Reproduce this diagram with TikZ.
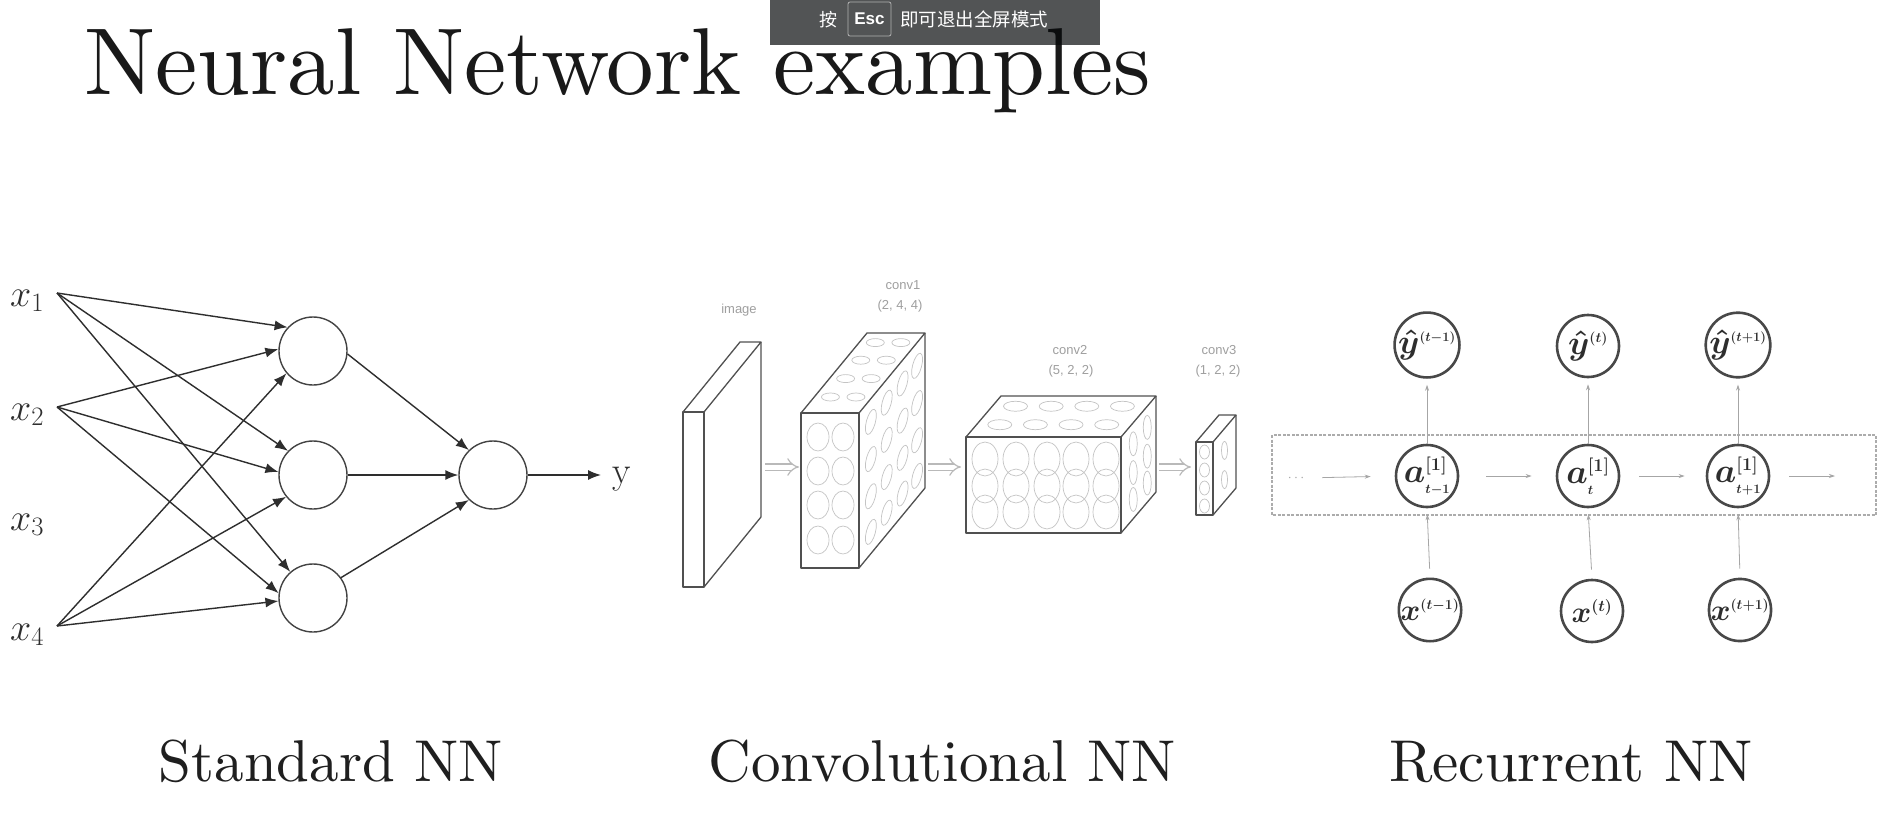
\RequirePackage{fix-cm}
\documentclass[tikz,border=0pt]{standalone}
\usepackage{fontspec}
\newfontfamily\cjk{Noto Sans CJK SC}
\newfontfamily\lsans{Liberation Sans}
\newfontfamily\lmten{lmroman10-regular}[Extension=.otf]
\usetikzlibrary{arrows.meta}
\definecolor{ink}{HTML}{2E2E2E}
\definecolor{cnnline}{HTML}{505050}
\definecolor{cnnlight}{HTML}{C4C4C4}
\definecolor{rnnline}{HTML}{484848}
\definecolor{bannerc}{HTML}{05080A}
\newcommand\drawcuboid[6]{%
  \draw[cube] (#1,#2) rectangle (#3,#4);
  \draw[cube] (#1,#2) -- ++(#5,#6) -- ++(#3-#1,0) -- (#3,#2);
  \draw[cube] (#3,#2) ++(#5,#6) -- ++(0,#4-#2) -- (#3,#4);
}
\newcommand\smallmath[2]{\mbox{\fontsize{#1}{#1}\selectfont$#2$}}
\begin{document}
\begin{tikzpicture}[x=1pt,y=-1pt,
  neuron/.style={circle,draw=ink!90,line width=1.4pt,minimum size=68pt,inner sep=0pt},
  nnarrow/.style={draw=ink,line width=1.4pt,-{Latex[length=13pt,width=10pt]}},
  inlbl/.style={inner sep=0pt,anchor=base west,font=\fontsize{38}{40}\selectfont,text=ink},
  cube/.style={draw=cnnline,line width=1.3pt,line join=round},
  blob/.style={draw=cnnlight,line width=0.7pt},
  hollow/.style={draw=gray!55,line width=1.2pt,double=white,double distance=5pt,-{Implies}},
  cnnlbl/.style={inner sep=0pt,font=\lsans\fontsize{13}{14}\selectfont,text=gray!75},
  rnode/.style={circle,draw=rnnline,line width=2.6pt,minimum size=62pt,inner sep=0pt,text=ink,font=\fontsize{34}{36}\selectfont\boldmath},
  rarrow/.style={draw=gray!70,line width=0.8pt,-{Stealth[length=6pt,width=4pt]}},
  dashbox/.style={draw=gray!65,line width=1.5pt,dash pattern=on 3pt off 1.5pt},
  caption/.style={inner sep=0pt,anchor=base,font=\lmten\fontsize{59}{66}\selectfont,text=black!88},
]
\useasboundingbox (0,0) rectangle (1890,814);
\fill[white] (0,0) rectangle (1890,814);

% title
\node[inner sep=0pt,anchor=base west,font=\lmten\fontsize{95}{100}\selectfont,text=black!90] (title) at (84,94) {Neural Network examples};

% ---------------- Standard NN ----------------
\node[inlbl] (sx1) at (10,306) {$x_1$};
\node[inlbl] (sx2) at (10,420) {$x_2$};
\node[inlbl] (sx3) at (10,530) {$x_3$};
\node[inlbl] (sx4) at (10,640) {$x_4$};
\coordinate (i1) at (57,293);
\coordinate (i2) at (57,407);
\coordinate (i4) at (57,626);
\node[neuron] (h1) at (313,351) {};
\node[neuron] (h2) at (313,475) {};
\node[neuron] (h3) at (313,598) {};
\node[neuron] (o) at (493,475) {};
\draw[nnarrow] (i1) -- (h1.137);
\draw[nnarrow] (i1) -- (h2.136);
\draw[nnarrow] (i1) -- (h3.131);
\draw[nnarrow] (i2) -- (h1.177);
\draw[nnarrow] (i2) -- (h2.175);
\draw[nnarrow] (i2) -- (h3.172);
\draw[nnarrow] (i4) -- (h1.220);
\draw[nnarrow] (i4) -- (h2.219);
\draw[nnarrow] (i4) -- (h3.185);
\draw[nnarrow] (h1.-5) -- (o.134);
\draw[nnarrow] (h2.east) -- (o.west);
\draw[nnarrow] (h3.36) -- (o.226);
\coordinate (yend) at (601,475);
\draw[nnarrow] (o.east) -- (yend);
\node[inlbl] (ylbl) at (612,483) {$\mathrm{y}$};

% ---------------- Convolutional NN ----------------
% image slab
\drawcuboid{683}{412}{704}{587}{57}{-70}
\node[cnnlbl] (limg) at (739,310) {image};
% conv1
\foreach \cx in {818,843} \foreach \cy in {437,471,505,540}
  \draw[blob] (\cx,\cy) ellipse[x radius=11pt,y radius=14pt];
\foreach \u in {0.18,0.42,0.66,0.88} \foreach \v in {0.15,0.39,0.63,0.86}
  \draw[blob,rotate around={-15:({859+66*\u},{413+155*\v-80*\u})}] ({859+66*\u},{413+155*\v-80*\u}) ellipse[x radius=4.5pt,y radius=13pt];
\foreach \u in {0.2,0.43,0.66,0.88} \foreach \w in {0.28,0.72}
  \draw[blob] ({801+58*\w+66*\u},{413-80*\u}) ellipse[x radius=9pt,y radius=4pt];
\drawcuboid{801}{413}{859}{568}{66}{-80}
\node[cnnlbl] (lc1a) at (903,285) {conv1};
\node[cnnlbl] (lc1b) at (900,306) {(2, 4, 4)};
% conv2
\foreach \cx in {985,1016,1047,1076,1106} \foreach \cy in {459,486,512}
  \draw[blob] (\cx,\cy) ellipse[x radius=13pt,y radius=17pt];
\foreach \u in {0.3,0.75} \foreach \w in {0.15,0.38,0.61,0.84}
  \draw[blob] ({966+155*\w+35*\u},{437-41*\u}) ellipse[x radius=12pt,y radius=5pt];
\foreach \u in {0.35,0.75} \foreach \v in {0.22,0.52,0.8}
  \draw[blob] ({1121+35*\u},{437+96*\v-41*\u}) ellipse[x radius=4pt,y radius=12pt];
\drawcuboid{966}{437}{1121}{533}{35}{-41}
\node[cnnlbl] (lc2a) at (1070,350) {conv2};
\node[cnnlbl] (lc2b) at (1071,371) {(5, 2, 2)};
% conv3
\foreach \cy in {452,470,488,506}
  \draw[blob] (1204.5,\cy) ellipse[x radius=5pt,y radius=7pt];
\foreach \v in {0.3,0.7}
  \draw[blob] ({1213+23*0.5},{442+73*\v-27*0.5}) ellipse[x radius=3pt,y radius=9pt];
\drawcuboid{1196}{442}{1213}{515}{23}{-27}
\node[cnnlbl] (lc3a) at (1219,350) {conv3};
\node[cnnlbl] (lc3b) at (1218,371) {(1, 2, 2)};
% hollow arrows
\coordinate (ha1) at (765,467); \coordinate (hb1) at (799,467);
\coordinate (ha2) at (928,467); \coordinate (hb2) at (961,467);
\coordinate (ha3) at (1159,467); \coordinate (hb3) at (1191,467);
\draw[hollow] (ha1) -- (hb1);
\draw[hollow] (ha2) -- (hb2);
\draw[hollow] (ha3) -- (hb3);

% ---------------- Recurrent NN ----------------
\draw[dashbox] (1272,435) rectangle (1876,515);
\node[rnode] (yh1) at (1427,345) {$\hat y^{\smallmath{13}{(t{-}1)}}$};
\node[rnode] (yh2) at (1588,346) {$\hat y^{\smallmath{14}{(t)}}$};
\node[rnode] (yh3) at (1738,345) {$\hat y^{\smallmath{13}{(t{+}1)}}$};
\node[rnode] (a1) at (1427,476) {$a^{\smallmath{18}{[1]}}_{\smallmath{13}{t{-}1}}$};
\node[rnode] (a2) at (1588,476) {$a^{\smallmath{18}{[1]}}_{\smallmath{13}{t}}$};
\node[rnode] (a3) at (1738,476) {$a^{\smallmath{18}{[1]}}_{\smallmath{13}{t{+}1}}$};
\node[rnode,font=\fontsize{30}{32}\selectfont\boldmath] (rx1) at (1430,610) {$x^{\smallmath{14}{(t{-}1)}}$};
\node[rnode,font=\fontsize{30}{32}\selectfont\boldmath] (rx2) at (1592,611) {$x^{\smallmath{16}{(t)}}$};
\node[rnode,font=\fontsize{30}{32}\selectfont\boldmath] (rx3) at (1740,610) {$x^{\smallmath{14}{(t{+}1)}}$};
\node[inner sep=0pt,text=gray!70,font=\fontsize{14}{14}\selectfont] (dots) at (1296,478) {$\cdots$};
\coordinate (aend) at (1835,476);
\draw[rarrow,shorten <=18pt,shorten >=24pt] (dots.east) -- (a1.west);
\draw[rarrow,shorten <=27pt,shorten >=24pt] (a1.east) -- (a2.west);
\draw[rarrow,shorten <=19pt,shorten >=21pt] (a2.east) -- (a3.west);
\draw[rarrow,shorten <=19pt] (a3.east) -- (aend);
\foreach \k in {1,2,3}{
  \draw[rarrow,shorten <=9pt,shorten >=6pt] (rx\k.north) -- (a\k.south);
  \draw[rarrow,shorten >=6pt] (a\k.north) -- (yh\k.south);
}

% captions
\node[caption] (cstd) at (331,781) {Standard NN};
\node[caption] (ccnn) at (942,781) {Convolutional NN};
\node[caption] (crnn) at (1571,781) {Recurrent NN};

% fullscreen banner
\fill[bannerc,fill opacity=0.69] (770,0) rectangle (1100,45);
\node[inner sep=0pt,anchor=base,text=white,font=\cjk\fontsize{18}{20}\selectfont] (kan) at (828,26) {按};
\node[draw=gray!60,line width=0.8pt,rounded corners=2pt,minimum width=43pt,minimum height=34pt,inner sep=0pt,text=white,font=\lsans\bfseries\fontsize{17}{20}\selectfont] (esc) at (869.5,19) {Esc};
\node[inner sep=0pt,anchor=base west,text=white,font=\cjk\fontsize{18.5}{20}\selectfont] (msg) at (900,26) {即可退出全屏模式};
\end{tikzpicture}
\end{document}
